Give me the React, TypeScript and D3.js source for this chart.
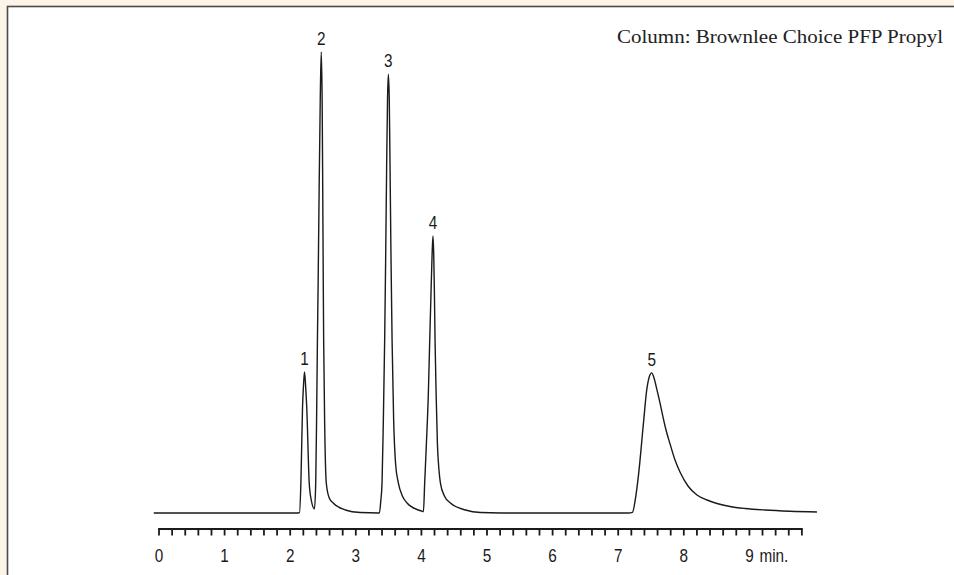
import React from "react";
import * as d3 from "d3";

// ---- data ----
// chromatogram trace: [time (min), signal (relative, peak 2 = 100)]
const trace: [number, number][] = [
  [-0.08, 0], [1.5, 0], [2.1, 0],
  // peak 1
  [2.142, 0.1], [2.163, 6.5], [2.188, 23.0], [2.203, 27.8], [2.218, 30.6],
  [2.234, 27.8], [2.252, 23.0], [2.29, 6.5], [2.321, 2.8], [2.37, 0.9],
  // peak 2
  [2.389, 6.5], [2.402, 20], [2.415, 37.5], [2.426, 50], [2.441, 70],
  [2.458, 89.6], [2.473, 100], [2.487, 89.6], [2.496, 70], [2.504, 50],
  [2.51, 37.5], [2.527, 18], [2.55, 6.5], [2.595, 3.25], [2.656, 2.17],
  [2.84, 0.65], [3.069, 0.1], [3.344, 0],
  // peak 3
  [3.359, 0.05], [3.382, 2.8], [3.4, 6.5], [3.42, 20.2], [3.44, 37.5],
  [3.455, 55], [3.47, 75], [3.484, 90], [3.496, 95.2], [3.51, 90],
  [3.522, 75], [3.537, 55], [3.553, 37.5], [3.577, 20.2], [3.608, 10.4],
  [3.649, 6.5], [3.71, 3.7], [3.782, 2.17], [3.954, 0.65], [4.015, 0.35],
  // peak 4
  [4.031, 0.3], [4.05, 6.5], [4.076, 15], [4.104, 25], [4.127, 37.5],
  [4.147, 48], [4.163, 56], [4.176, 60.1], [4.188, 56], [4.198, 48],
  [4.208, 37.5], [4.226, 25], [4.244, 15], [4.267, 9.5], [4.29, 6.5],
  [4.351, 3.7], [4.443, 2.17], [4.672, 0.65], [4.901, 0.1], [5.206, 0],
  [7.16, 0],
  // peak 5
  [7.217, 0.15], [7.267, 3.5], [7.313, 8.7], [7.385, 19.5], [7.435, 26.7],
  [7.473, 29.5], [7.511, 30.4], [7.546, 29.3], [7.591, 26.7], [7.637, 23.9],
  [7.683, 20.8], [7.729, 18.0], [7.79, 15.0], [7.866, 11.5], [7.942, 8.9],
  [8.064, 5.86], [8.201, 3.9], [8.354, 2.82], [8.506, 2.06], [8.704, 1.41],
  [8.933, 0.98], [9.238, 0.65], [9.619, 0.39], [10.03, 0.22],
];

const peakNames = ["1", "2", "3", "4", "5"];
const peakTimes = [2.218, 2.473, 3.496, 4.176, 7.511];
const peakHeights = [30.6, 100, 95.2, 60.1, 30.4];

const majorTicks = [0, 1, 2, 3, 4, 5, 6, 7, 8, 9];
const minorTicks = d3.range(0, 50).map((i) => i / 5); // 0 .. 9.8 every 0.2 min
const unitLabel = "min.";
const titleText = "Column: Brownlee Choice PFP Propyl";

const W = 954;
const H = 575;

export default function App() {
  const x = d3.scaleLinear().domain([0, 9.8]).range([159, 159 + 9.8 * 65.6]);
  const y = d3.scaleLinear().domain([0, 100]).range([513, 52]);

  const line = d3
    .line<[number, number]>()
    .x((d) => x(d[0]))
    .y((d) => y(d[1]))
    .curve(d3.curveMonotoneX);

  const axisY = 529;
  const sans = "'Liberation Sans', Arial, sans-serif";
  const narrow = (px: number, py: number) => `translate(${px},${py}) scale(0.85,1)`;

  return (
    <svg
      width={W}
      height={H}
      style={{ position: "absolute", left: 0, top: 0 }}
      xmlns="http://www.w3.org/2000/svg"
    >
      <rect x={0} y={0} width={W} height={H} fill="#fcf4e8" />
      <rect
        x={7.5}
        y={6.5}
        width={W + 20}
        height={H + 20}
        fill="#ffffff"
        stroke="#4a4a4a"
        strokeWidth={1.6}
      />

      <text
        x={943}
        y={43}
        textAnchor="end"
        fontFamily="'Liberation Serif', 'Times New Roman', serif"
        fontSize={19.5}
        textLength={326}
        lengthAdjust="spacingAndGlyphs"
        fill="#222"
      >
        {titleText}
      </text>

      <path d={line(trace) || ""} fill="none" stroke="#1a1a1a" strokeWidth={1.4} />

      {peakNames.map((n, i) => (
        <text
          key={n}
          transform={narrow(x(peakTimes[i]), y(peakHeights[i]) - 7)}
          textAnchor="middle"
          fontFamily={sans}
          fontSize={18}
          fill="#1a1a1a"
        >
          {n}
        </text>
      ))}

      <g>
        <line
          x1={x(0) - 0.9}
          x2={x(9.8) + 0.9}
          y1={axisY}
          y2={axisY}
          stroke="#1a1a1a"
          strokeWidth={1.8}
        />
        {minorTicks.map((t) => (
          <line
            key={t}
            x1={x(t)}
            x2={x(t)}
            y1={axisY}
            y2={axisY + 6.5}
            stroke="#1a1a1a"
            strokeWidth={1.8}
          />
        ))}
        {majorTicks.map((t) => (
          <text
            key={t}
            transform={narrow(x(t), 562)}
            textAnchor="middle"
            fontFamily={sans}
            fontSize={18}
            fill="#1a1a1a"
          >
            {t}
          </text>
        ))}
        <text
          transform={narrow(x(9) + 10, 562)}
          fontFamily={sans}
          fontSize={18}
          fill="#1a1a1a"
        >
          {unitLabel}
        </text>
      </g>
    </svg>
  );
}
